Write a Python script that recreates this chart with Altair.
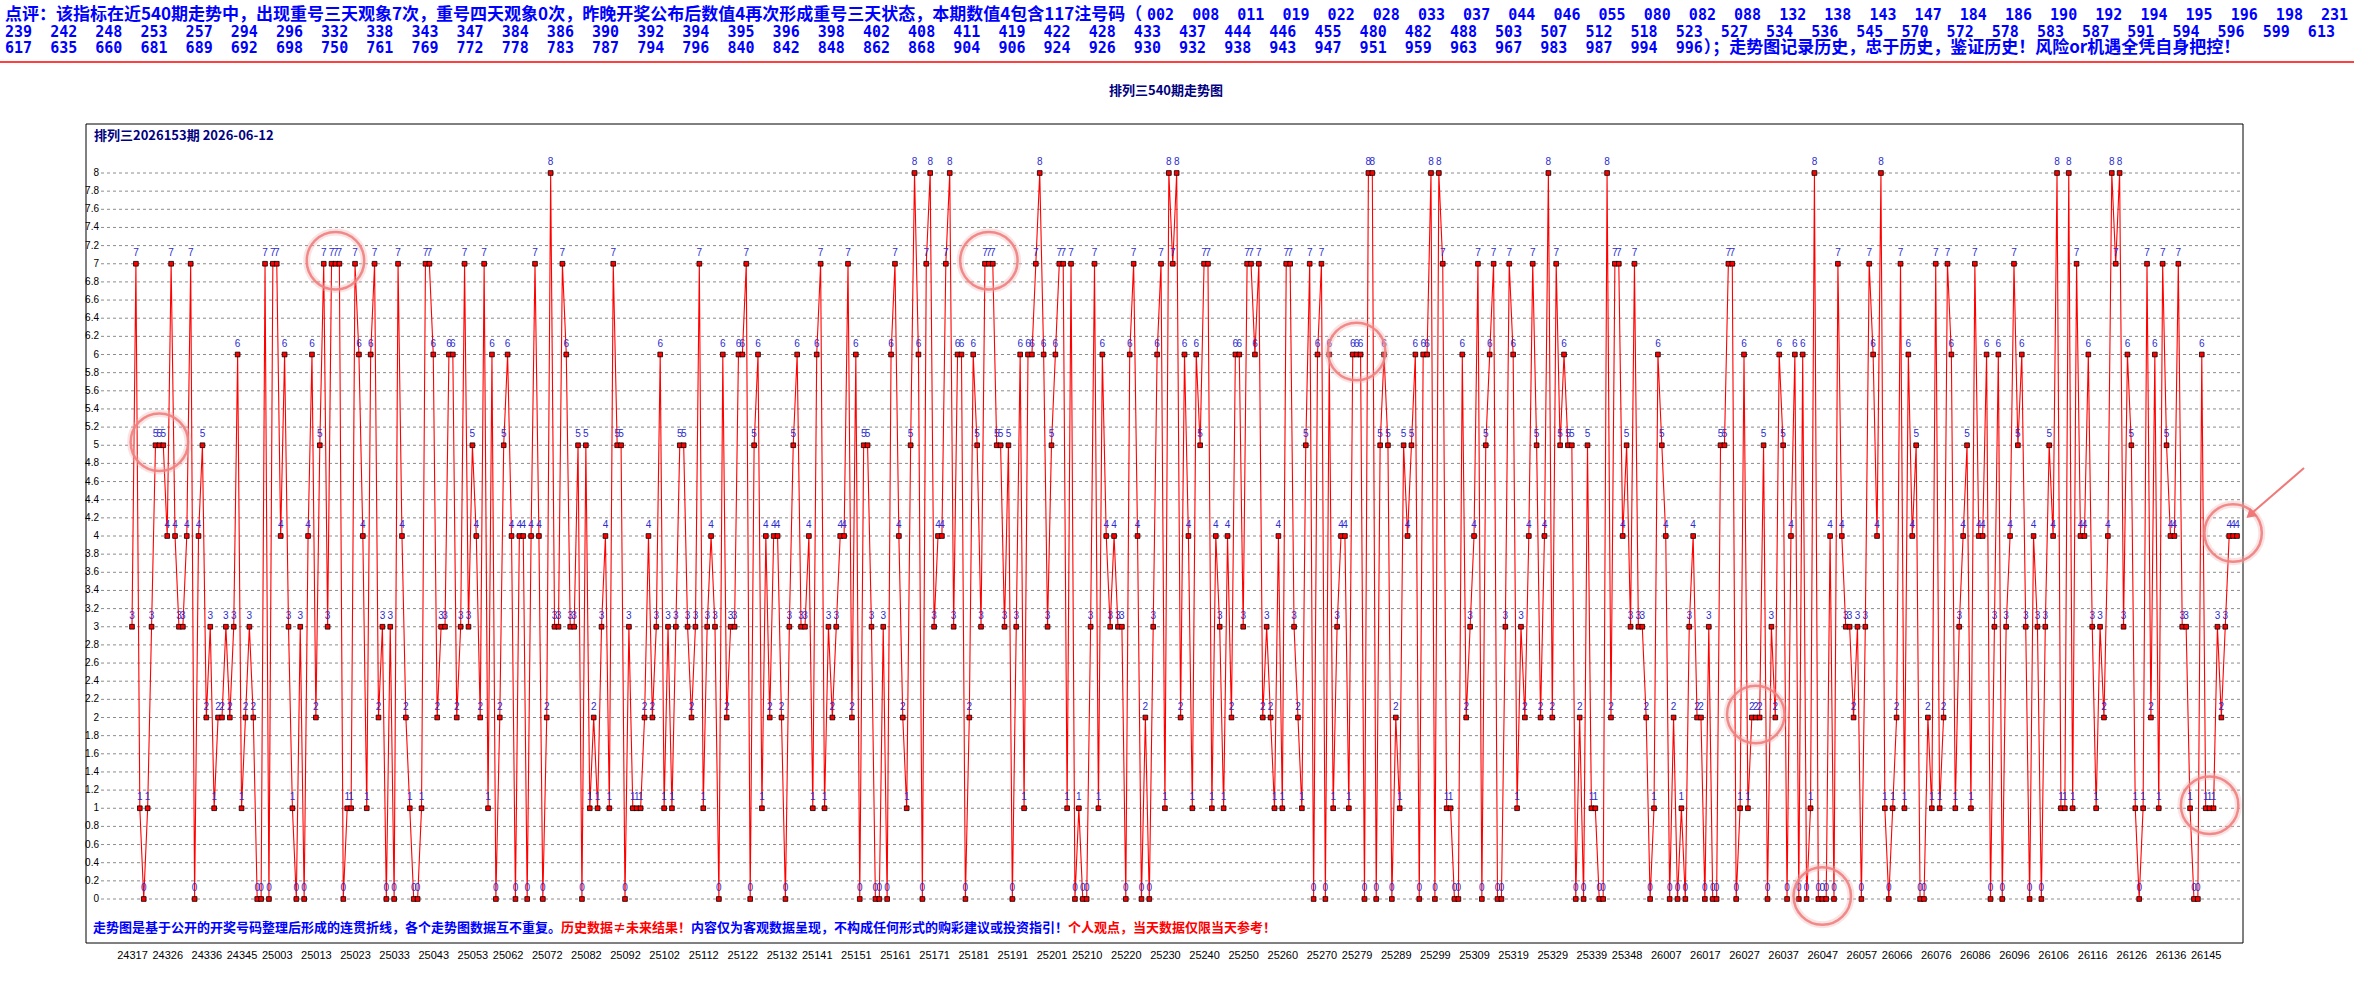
import altair as alt
import pandas as pd

# ---------------- data ----------------
values = [
    3, 7, 1, 0, 1, 3, 5, 5, 5, 4, 7, 4, 3, 3, 4, 7, 0, 4, 5, 2, 3, 1, 2, 2, 3, 2, 3, 6, 1, 2,
    3, 2, 0, 0, 7, 0, 7, 7, 4, 6, 3, 1, 0, 3,
    0, 4, 6, 2, 5, 7, 3, 7, 7, 7, 0, 1, 1, 7, 6, 4, 1, 6, 7, 2, 3, 0, 3, 0, 7, 4, 2, 1, 0, 0,
    1, 7, 7, 6, 2, 3, 3, 6, 6, 2, 3, 7, 3, 5, 4, 2, 7, 1, 6,
    0, 2, 5, 6, 4, 0, 4, 4, 0, 4, 7, 4, 0, 2, 8, 3, 3, 7, 6, 3, 3, 5, 0, 5, 1, 2, 1, 3, 4, 1,
    7, 5, 5, 0, 3, 1, 1, 1, 2, 4, 2, 3, 6, 1, 3, 1, 3, 5, 5, 3,
    2, 3, 7, 1, 3, 4, 3, 0, 6, 2, 3, 3, 6, 6, 7, 0, 5, 6, 1, 4, 2, 4, 4, 2, 0, 3, 5, 6, 3, 3,
    4, 1, 6, 7, 1, 3, 2, 3, 4, 4, 7, 2, 6, 0, 5, 5, 3, 0, 0, 3,
    0, 6, 7, 4, 2, 1, 5, 8, 6, 0, 7, 8, 3, 4, 4, 7, 8, 3, 6, 6, 0, 2, 6, 5, 3, 7, 7, 7, 5, 5,
    3, 5, 0, 3, 6, 1, 6, 6, 7, 8, 6, 3, 5, 6, 7, 7, 1, 7, 0, 1,
    0, 0, 3, 7, 1, 6, 4, 3, 4, 3, 3, 0, 6, 7, 4, 0, 2, 0, 3, 6, 7, 1, 8, 7, 8, 2, 6, 4, 1, 6,
    5, 7, 7, 1, 4, 3, 1, 4, 2, 6, 6, 3, 7, 7, 6, 7, 2, 3, 2, 1,
    4, 1, 7, 7, 3, 2, 1, 5, 7, 0, 6, 7, 0, 6, 1, 3, 4, 4, 1, 6, 6, 6, 0, 8, 8, 0, 5, 6, 5, 0,
    2, 1, 5, 4, 5, 6, 0, 6, 6, 8, 0, 8, 7, 1, 1, 0, 0, 6, 2, 3,
    4, 7, 0, 5, 6, 7, 0, 0, 3, 7, 6, 1, 3, 2, 4, 7, 5, 2, 4, 8, 2, 7, 5, 6, 5, 5, 0, 2, 0, 5,
    1, 1, 0, 0, 8, 2, 7, 7, 4, 5, 3, 7, 3, 3, 2, 0, 1, 6, 5,
    4, 0, 2, 0, 1, 0, 3, 4, 2, 2, 0, 3, 0, 0, 5, 5, 7, 7, 0, 1, 6, 1, 2, 2, 2, 5, 0, 3, 2, 6,
    5, 0, 4, 6, 0, 6, 0, 1, 8, 0, 0, 0, 4, 0, 7, 4, 3, 3, 2, 3,
    0, 3, 7, 6, 4, 8, 1, 0, 1, 2, 7, 1, 6, 4, 5, 0, 0, 2, 1, 7, 1, 2, 7, 6, 1, 3, 4, 5, 1, 7,
    4, 4, 6, 0, 3, 6, 0, 3, 4, 7, 5, 6, 3, 0, 4, 3, 0, 3, 5, 4,
    8, 1, 1, 8, 1, 7, 4, 4, 6, 3, 1, 3, 2, 4, 8, 7, 8, 3, 6, 5, 1, 0, 1, 7, 2, 6, 1, 7, 5, 4,
    4, 7, 3, 3, 1, 0, 0, 6, 1, 1, 1, 3, 2, 3, 4, 4, 4,
]

periods = ([f"24{n:03d}" for n in range(317, 352)]
           + [f"25{n:03d}" for n in range(1, 352)]
           + [f"26{n:03d}" for n in range(1, 154)])

tick_labels = [
    "24317", "24326", "24336", "24345", "25003", "25013", "25023", "25033", "25043", "25053",
    "25062", "25072", "25082", "25092", "25102", "25112", "25122", "25132", "25141", "25151",
    "25161", "25171", "25181", "25191", "25201", "25210", "25220", "25230", "25240", "25250",
    "25260", "25270", "25279", "25289", "25299", "25309", "25319", "25329", "25339", "25348",
    "26007", "26017", "26027", "26037", "26047", "26057", "26066", "26076", "26086", "26096",
    "26106", "26116", "26126", "26136", "26145",
]

y_ticks = [round(i * 0.2, 1) for i in range(41)]
y_tick_labels = [f"{v:g}" for v in y_ticks]

circle_periods = ["24324", "25018", "25185", "25279", "26030", "26047", "26146", "26152"]
circle_values = [5, 7, 7, 6, 2, 0, 1, 4]

codes_line1 = ["002", "008", "011", "019", "022", "028", "033", "037", "044", "046", "055",
               "080", "082", "088", "132", "138", "143", "147", "184", "186", "190", "192",
               "194", "195", "196", "198", "231"]
codes_line2 = ["239", "242", "248", "253", "257", "294", "296", "332", "338", "343", "347",
               "384", "386", "390", "392", "394", "395", "396", "398", "402", "408", "411",
               "419", "422", "428", "433", "437", "444", "446", "455", "480", "482", "488",
               "503", "507", "512", "518", "523", "527", "534", "536", "545", "570", "572",
               "578", "583", "587", "591", "594", "596", "599", "613"]
codes_line3 = ["617", "635", "660", "681", "689", "692", "698", "750", "761", "769", "772",
               "778", "783", "787", "794", "796", "840", "842", "848", "862", "868", "904",
               "906", "924", "926", "930", "932", "938", "943", "947", "951", "959", "963",
               "967", "983", "987", "994", "996"]

header1_text = ("点评：该指标在近540期走势中，出现重号三天观象7次，重号四天观象0次，昨晚开奖公布后数值4"
                "再次形成重号三天状态，本期数值4包含117注号码（")
header3_text = "）；走势图记录历史，忠于历史，鉴证历史！风险or机遇全凭自身把控！"
title_text = "排列三540期走势图"
inner_title = "排列三2026153期  2026-06-12"
footer_parts = [
    ("走势图是基于公开的开奖号码整理后形成的连贯折线，各个走势图数据互不重复。", "#0000FF"),
    ("历史数据≠未来结果！", "#FF0000"),
    ("内容仅为客观数据呈现，不构成任何形式的购彩建议或投资指引！", "#0000FF"),
    ("\u00a0个人观点，当天数据仅限当天参考！", "#FF0000"),
]

# ---------------- layout (page pixels) ----------------
PX0, PY0 = 132, 173
W, H = 2105, 726
PAGE_W, PAGE_H = 2354, 989


def ax(x):
    return x - PX0


def ay(y):
    return y - PY0


CJK = "Noto Sans CJK SC"
HEAD_SIZE = 17
MONO = "DejaVu Sans Mono"
MONO_SIZE = 15
MONO_ADV = 0.602 * MONO_SIZE
SEP = "\u00a0\u00a0"

df = pd.DataFrame({"period": periods, "value": values})
gdf = pd.DataFrame({"g": y_ticks, "lab": y_tick_labels})
one = pd.DataFrame({"k": [0]})

x_scale = alt.Scale(type="point", padding=0, domain=periods)
y_scale = alt.Scale(domain=[0, 8], nice=False, zero=False)
X_PLAIN = alt.X("period:O", scale=x_scale)
Y_PLAIN = alt.Y("value:Q", scale=y_scale, axis=None)
Y_GRID = alt.Y("g:Q", scale=y_scale, axis=None)

# frame
frame = alt.Chart(one).mark_rect(fillOpacity=0, stroke="#000000", strokeWidth=1).encode(
    x=alt.value(ax(86)), x2=alt.value(ax(2243)), y=alt.value(ay(124)), y2=alt.value(ay(943))
)

# grid lines + y labels
grid = alt.Chart(gdf).mark_rule(color="#8c8c8c", strokeDash=[3, 3], strokeWidth=1).encode(
    y=Y_GRID, x=alt.value(ax(101)), x2=alt.value(ax(2242)),
)
ylab = alt.Chart(gdf).mark_text(align="right", baseline="middle", fontSize=10,
                                font="Liberation Sans", color="#000000").encode(
    y=Y_GRID, x=alt.value(ax(99)), text="lab:N",
)

line = alt.Chart(df).mark_line(color="#FF0000", strokeWidth=1.1).encode(
    x=alt.X("period:O", scale=x_scale,
            axis=alt.Axis(values=tick_labels, labelAngle=0, labelFontSize=11,
                          labelFont="Liberation Sans", labelColor="#000000", ticks=False,
                          domain=False, grid=False, labelPadding=50, labelOverlap=False,
                          labelBaseline="top", title=None)),
    y=Y_PLAIN,
)

pts = alt.Chart(df).mark_square(size=22, color="#FF0000", filled=True, stroke="#000000",
                                strokeWidth=0.8, opacity=1).encode(x=X_PLAIN, y=Y_PLAIN)

lbl = alt.Chart(df).mark_text(dy=-11, fontSize=10, font="Liberation Sans",
                              color="#2b2bd0").encode(x=X_PLAIN, y=Y_PLAIN, text="value:Q")

cdf = pd.DataFrame({"period": circle_periods, "value": circle_values})
glow = alt.Chart(cdf).mark_point(shape="circle", size=3300, filled=False, stroke="#f4b0b0",
                                 strokeWidth=7, opacity=0.35, yOffset=-3).encode(
    x=X_PLAIN, y=Y_PLAIN)
circ = alt.Chart(cdf).mark_point(shape="circle", size=3300, filled=False, stroke="#f08080",
                                 strokeWidth=2.5, opacity=0.9, yOffset=-3).encode(
    x=X_PLAIN, y=Y_PLAIN)

arrow_line = alt.Chart(one).mark_rule(color="#f07878", strokeWidth=2).encode(
    x=alt.value(ax(2304)), x2=alt.value(ax(2252)), y=alt.value(ay(468)), y2=alt.value(ay(513)))
arrow_head = alt.Chart(one).mark_point(shape="triangle-up", size=120, filled=True,
                                       color="#f07878", angle=229, opacity=1).encode(
    x=alt.value(ax(2250)), y=alt.value(ay(515)))


# texts
def txt(s, x, y, size, color, weight="bold", align="left", font=CJK):
    return alt.Chart(one).mark_text(text=s, align=align, baseline="middle", font=font,
                                    fontSize=size, fontWeight=weight, color=color).encode(
        x=alt.value(ax(x)), y=alt.value(ay(y)))


codes1 = SEP.join(codes_line1)
codes2 = SEP.join(codes_line2)
codes3 = SEP.join(codes_line3)
codes3_end = 5 + len(codes3) * MONO_ADV

texts = [
    txt(header1_text, 5, 15, HEAD_SIZE, "#0000FF"),
    txt(codes1, 1147, 15, MONO_SIZE, "#0000FF", font=MONO),
    txt(codes2, 5, 32, MONO_SIZE, "#0000FF", font=MONO),
    txt(codes3, 5, 48, MONO_SIZE, "#0000FF", font=MONO),
    txt(header3_text, codes3_end + 1, 48, HEAD_SIZE, "#0000FF"),
    txt(title_text, 1166, 91, 13, "#000080", align="center"),
    txt(inner_title, 94, 136, 13, "#000080"),
]
fx = 93
for s, c in footer_parts:
    texts.append(txt(s, fx, 928, 13, c))
    fx += 13 * len(s)

red_line = alt.Chart(one).mark_rule(color="#FF0000", strokeWidth=1.5).encode(
    x=alt.value(ax(0)), x2=alt.value(ax(PAGE_W)), y=alt.value(ay(62)))

chart = alt.layer(
    frame, grid, ylab, line, pts, lbl, glow, circ, arrow_line, arrow_head, red_line, *texts
).properties(
    width=W, height=H,
    autosize=alt.AutoSizeParams(type="none"),
    padding={"left": PX0, "top": PY0, "right": PAGE_W - PX0 - W, "bottom": PAGE_H - PY0 - H},
    background="#FFFFFF",
).configure_view(stroke=None).configure_axis(labelOverlap=False)

chart.save("out.html", embed_options={"renderer": "svg", "actions": False})
